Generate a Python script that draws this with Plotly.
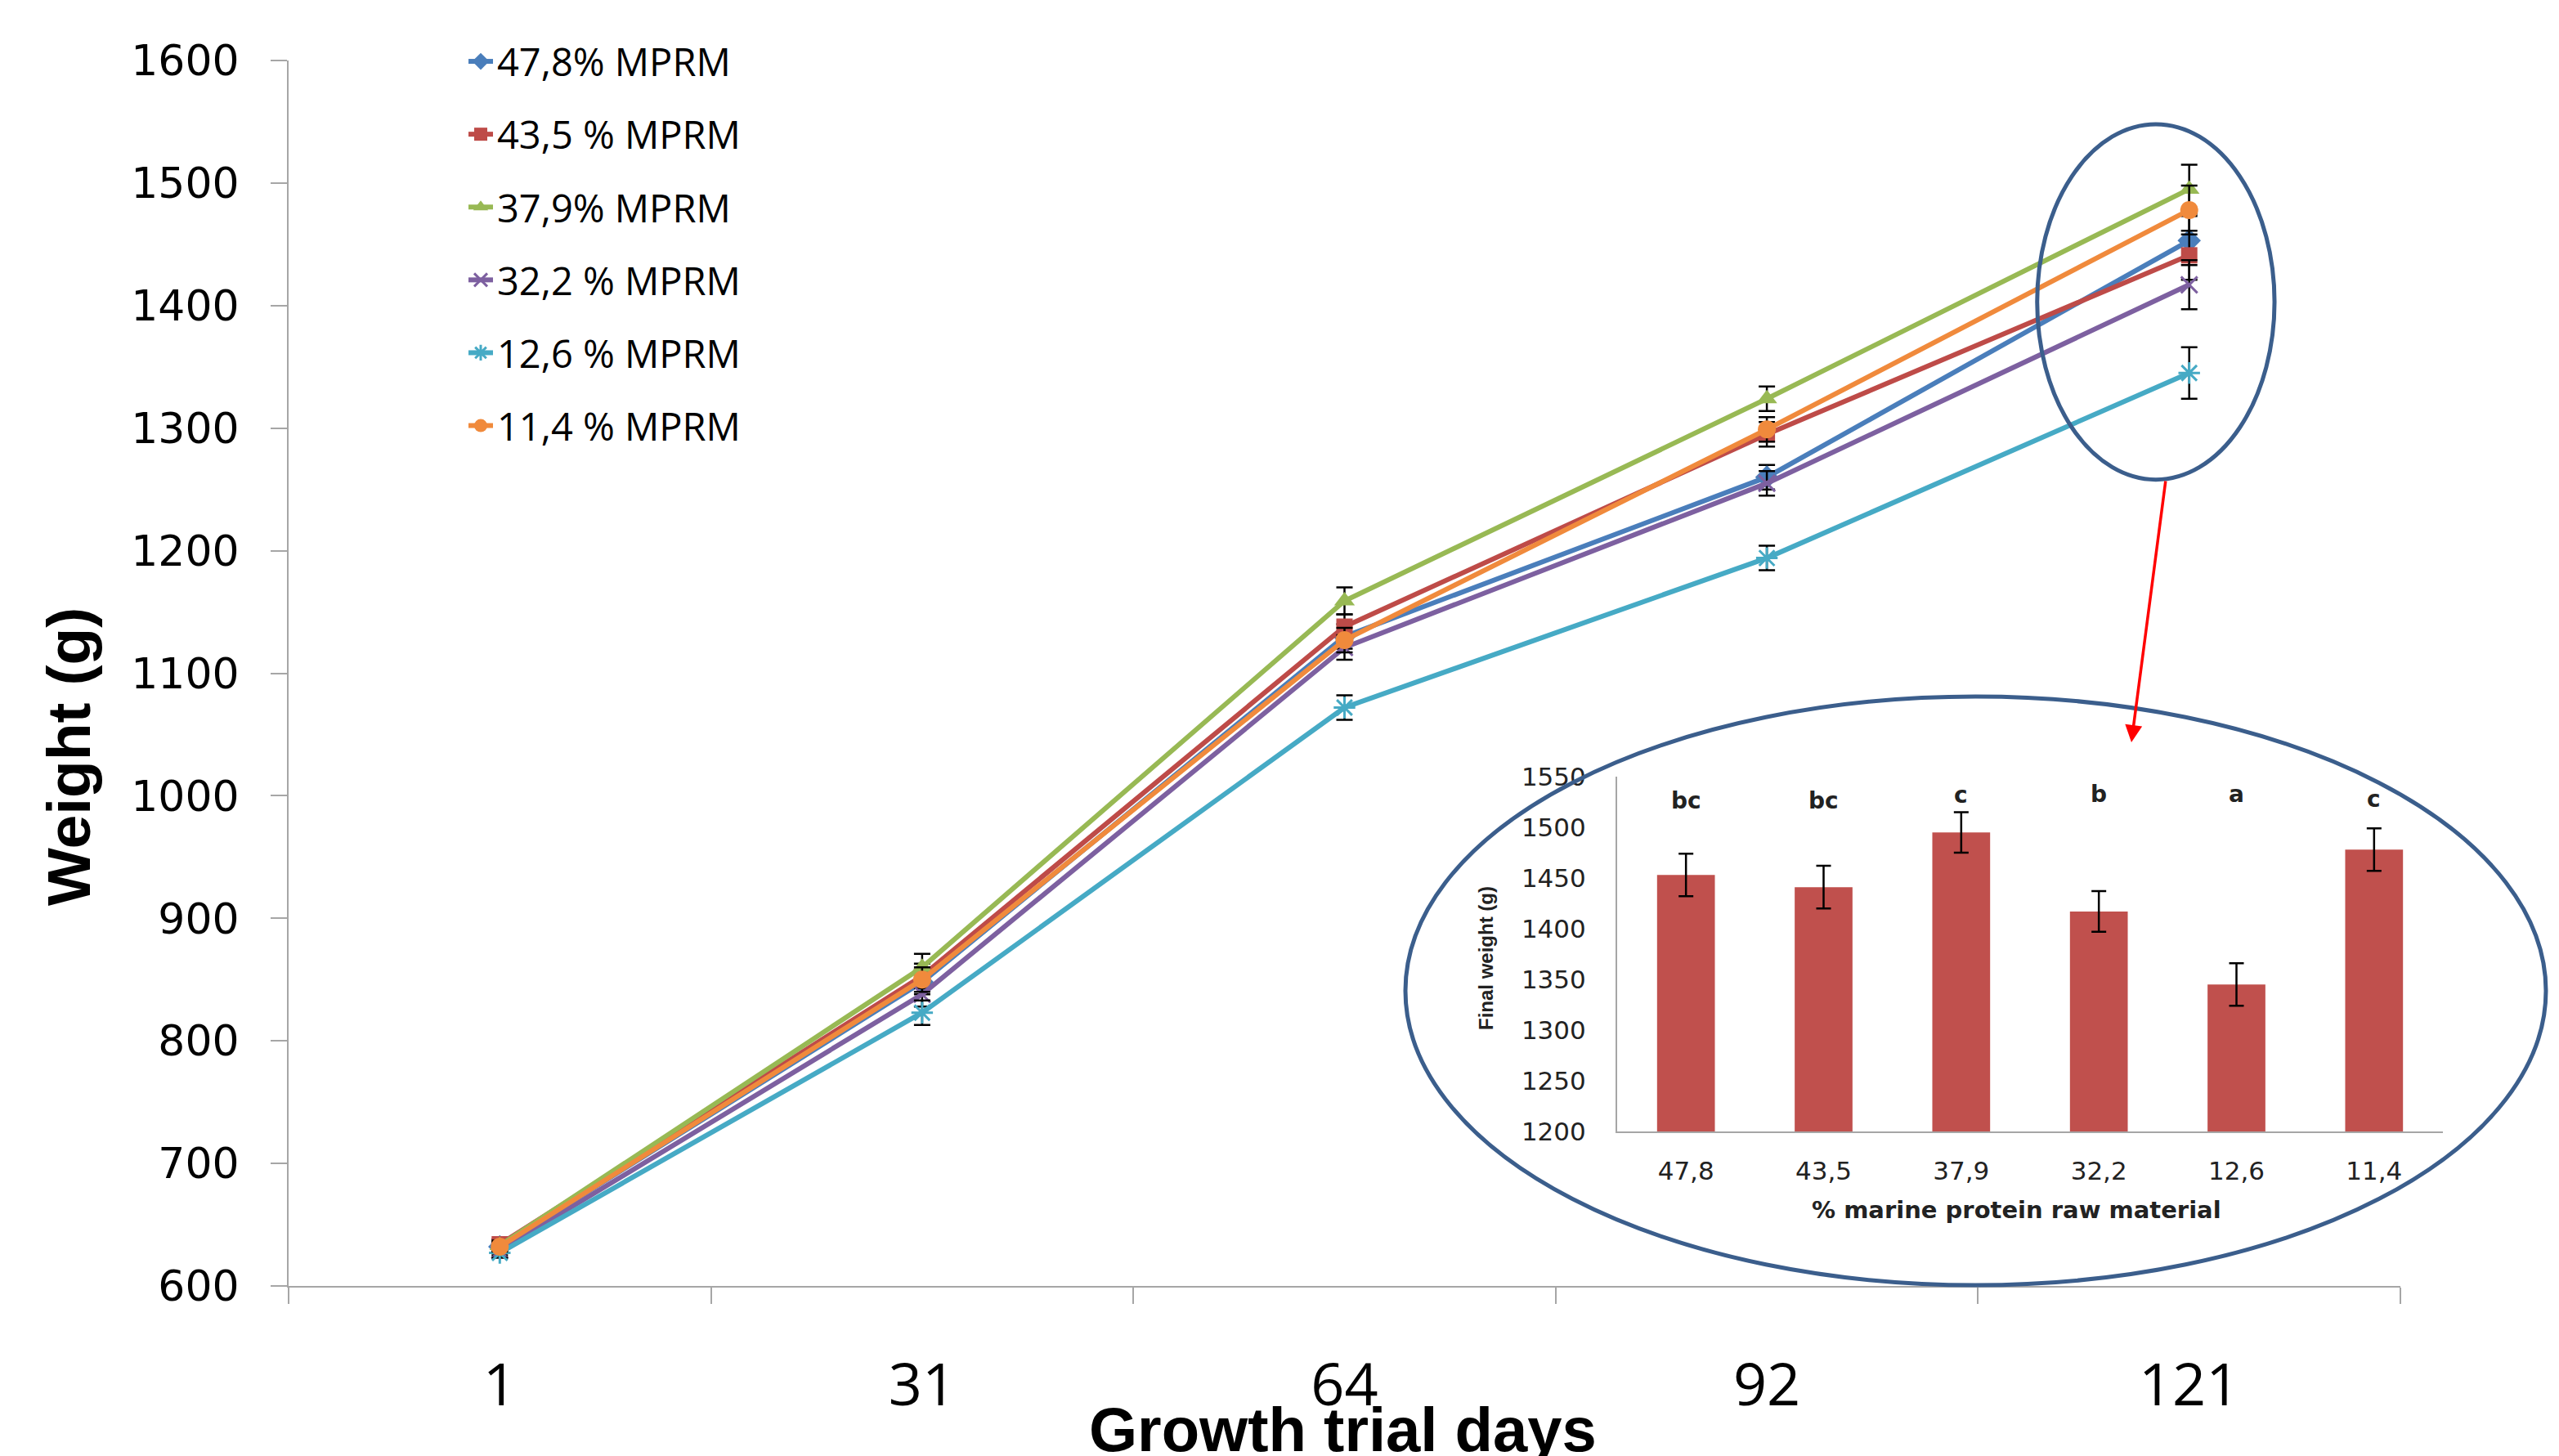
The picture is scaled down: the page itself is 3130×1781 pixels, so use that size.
import plotly.graph_objects as go

# ---------------- data ----------------
days = ["1", "31", "64", "92", "121"]
series_names = ["47,8% MPRM", "43,5 % MPRM", "37,9% MPRM", "32,2 % MPRM", "12,6 % MPRM", "11,4 % MPRM"]
w_478 = [632, 848, 1130, 1260, 1453]
w_435 = [634, 853, 1138, 1295, 1441]
w_379 = [633, 860, 1159, 1324, 1495]
w_322 = [629, 838, 1121, 1255, 1417]
w_126 = [627, 823, 1072, 1194, 1345]
w_114 = [632, 850, 1127, 1299, 1478]
err_478 = [4, 10, 10, 10, 20]
err_435 = [4, 10, 10, 10, 20]
err_379 = [4, 11, 11, 10, 20]
err_322 = [4, 10, 10, 10, 20]
err_126 = [4, 10, 10, 10, 21]
err_114 = [4, 10, 10, 10, 20]

pct_labels = ["47,8", "43,5", "37,9", "32,2", "12,6", "11,4"]
final_weight = [1453, 1441, 1495, 1417, 1345, 1478]
final_err = [21, 21, 20, 20, 21, 21]
letters = ["bc", "bc", "c", "b", "a", "c"]
letter_y = [1526, 1526, 1532, 1533, 1533, 1528]

y_ticks = [600, 700, 800, 900, 1000, 1100, 1200, 1300, 1400, 1500, 1600]
inset_ticks = [1200, 1250, 1300, 1350, 1400, 1450, 1500, 1550]

colors = ["#4A7EBB", "#BE4B48", "#98B954", "#7D60A0", "#46AAC5", "#F08A3C"]
symbols = ["diamond", "square", "triangle-up", "x-thin-open", "asterisk-open", "circle"]
sizes = [22, 20, 22, 20, 22, 22]

W, H = 3130, 1781
OFF = 8  # page body margin offset
GRAY = "#A6A6A6"
ELL = "#3B5E8C"

fig = go.Figure()

all_w = [w_478, w_435, w_379, w_322, w_126, w_114]
all_e = [err_478, err_435, err_379, err_322, err_126, err_114]
for i, (nm, w, e) in enumerate(zip(series_names, all_w, all_e)):
    fig.add_trace(go.Scatter(
        x=days, y=w, name=nm, mode="lines+markers",
        legendgroup=f"g{i}",
        line=dict(color=colors[i], width=6),
        marker=dict(symbol=symbols[i], size=sizes[i], color=colors[i],
                    line=dict(color=colors[i], width=3 if "open" in symbols[i] else 0)),
        error_y=dict(type="data", array=e, color="black", thickness=2.5, width=10),
        xaxis="x", yaxis="y",
    ))

fig.add_trace(go.Bar(
    x=pct_labels, y=final_weight, xaxis="x2", yaxis="y2",
    marker=dict(color="#C0504D", line=dict(width=0)), width=0.42,
    error_y=dict(type="data", array=final_err, color="black", thickness=2.5, width=9),
    showlegend=False,
))

def px_x(p):
    return (p - OFF) / W

def px_y(p):
    return 1 - (p - OFF) / H

fig.update_layout(
    width=W, height=H,
    margin=dict(l=0, r=0, t=0, b=0, autoexpand=False),
    paper_bgcolor="white", plot_bgcolor="white",
    showlegend=True,
    legend=dict(x=px_x(568), y=px_y(38), xanchor="left", yanchor="top",
                font=dict(family="Open Sans", size=47, color="black"),
                bgcolor="rgba(0,0,0,0)", tracegroupgap=25, itemwidth=30),
    xaxis=dict(domain=[px_x(353), px_x(2936)], anchor="y", type="category",
               range=[-0.5, 4.5], tickson="boundaries", ticks="outside", ticklen=20,
               tickcolor=GRAY, tickwidth=2, showline=True, linecolor=GRAY, linewidth=2,
               showgrid=False, zeroline=False, automargin=False,
               tickfont=dict(family="Open Sans", size=72, color="black"),
               ticklabelstandoff=58),
    yaxis=dict(domain=[px_y(1573), px_y(74)], anchor="x", range=[600, 1600],
               tickvals=y_ticks, ticks="outside", ticklen=20, tickcolor=GRAY, tickwidth=2,
               showline=True, linecolor=GRAY, linewidth=2, showgrid=False, zeroline=False,
               automargin=False,
               tickfont=dict(family="DejaVu Sans", size=52, color="black"),
               ticklabelstandoff=28),
    xaxis2=dict(domain=[px_x(1978), px_x(2988)], anchor="y2", type="category",
                showline=True, linecolor=GRAY, linewidth=2, ticks="", showgrid=False,
                automargin=False,
                tickfont=dict(family="DejaVu Sans", size=31, color="#222"),
                ticklabelstandoff=20),
    yaxis2=dict(domain=[px_y(1384), px_y(950)], anchor="x2", range=[1200, 1550],
                tickvals=inset_ticks, showline=True, linecolor=GRAY, linewidth=2,
                ticks="", showgrid=False, zeroline=False, automargin=False,
                tickfont=dict(family="DejaVu Sans", size=31, color="#222"),
                ticklabelstandoff=30),
)

annotations = [
    dict(text="<b>Growth trial days</b>", x=px_x(1643), y=px_y(1748), xref="paper", yref="paper",
         showarrow=False, xanchor="center", yanchor="middle",
         font=dict(family="Liberation Sans", size=76, color="black")),
    dict(text="<b>Weight (g)</b>", x=px_x(84), y=px_y(926), xref="paper", yref="paper",
         showarrow=False, textangle=-90, xanchor="center", yanchor="middle",
         font=dict(family="Liberation Sans", size=75, color="black")),
    dict(text="<b>% marine protein raw material</b>", x=px_x(2466), y=px_y(1480),
         xref="paper", yref="paper", showarrow=False, xanchor="center", yanchor="middle",
         font=dict(family="DejaVu Sans", size=29, color="#222")),
    dict(text="<b>Final weight (g)</b>", x=px_x(1817), y=px_y(1172), xref="paper", yref="paper",
         showarrow=False, textangle=-90, xanchor="center", yanchor="middle",
         font=dict(family="Liberation Sans", size=24, color="#222")),
    dict(text="", x=px_x(2607), y=px_y(908), xref="paper", yref="paper",
         showarrow=True, ax=42, ay=-321, arrowcolor="red", arrowwidth=3.5,
         arrowhead=2, arrowsize=1.2),
]
for lab, ly, lt in zip(pct_labels, letter_y, letters):
    annotations.append(dict(text=f"<b>{lt}</b>", x=lab, y=ly, xref="x2", yref="y2",
                            showarrow=False, xanchor="center", yanchor="middle",
                            font=dict(family="DejaVu Sans", size=28, color="#222")))
fig.update_layout(annotations=annotations)

fig.update_layout(shapes=[
    dict(type="circle", xref="x", yref="y", x0=3.640, x1=4.202, y0=1258, y1=1548,
         line=dict(color=ELL, width=5), layer="above"),
    dict(type="circle", xref="paper", yref="paper",
         x0=px_x(1719), x1=px_x(3114), y0=px_y(1572), y1=px_y(852),
         line=dict(color=ELL, width=5), layer="above"),
])

fig.write_html("out.html")
